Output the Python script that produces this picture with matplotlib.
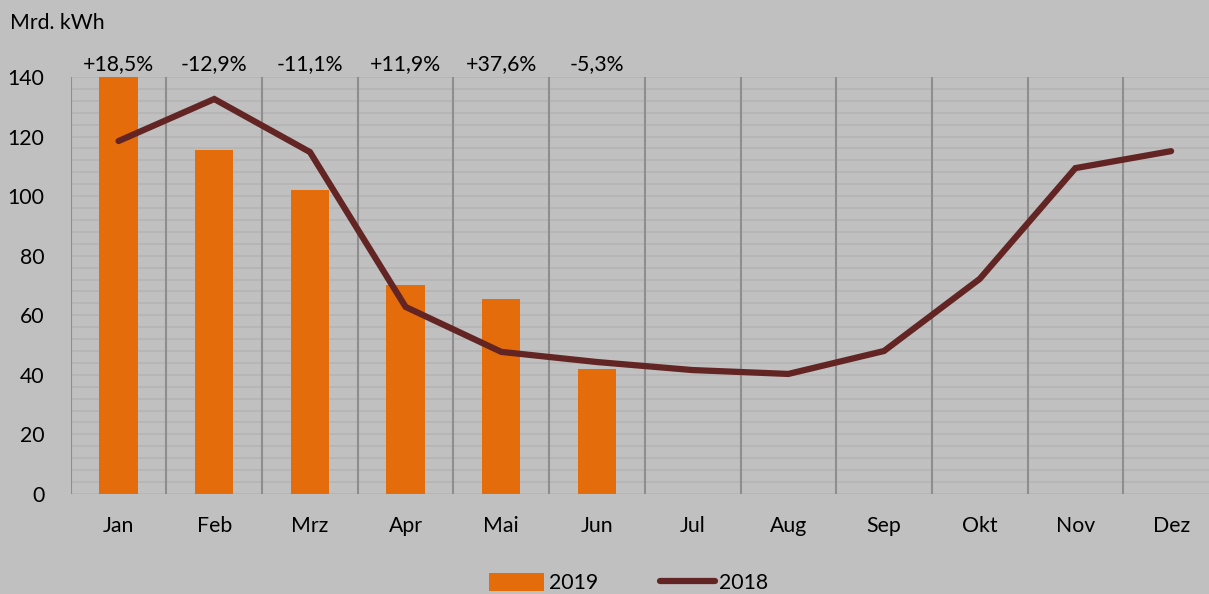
import matplotlib
matplotlib.use("Agg")
import matplotlib.pyplot as plt
import numpy as np
from matplotlib.patches import Patch
from matplotlib.lines import Line2D

months = ["Jan", "Feb", "Mrz", "Apr", "Mai", "Jun", "Jul", "Aug", "Sep", "Okt", "Nov", "Dez"]
values_2019 = [140.4, 115.5, 102.1, 70.3, 65.6, 42.0]
values_2018 = [118.5, 132.6, 114.8, 62.8, 47.7, 44.3, 41.6, 40.3, 48.0, 72.2, 109.4, 115.1]
changes = ["+18,5%", "-12,9%", "-11,1%", "+11,9%", "+37,6%", "-5,3%"]

BG = "#c0c0c0"
ORANGE = "#e46c0a"
DARKRED = "#632523"
FS = 15.3

plt.rcParams["font.family"] = ["Lato", "DejaVu Sans"]
plt.rcParams["font.size"] = FS

fig = plt.figure(figsize=(12.09, 5.94), dpi=100, facecolor=BG)
ax = fig.add_axes([0.0585, 0.1684, 0.9497, 0.702])
ax.set_facecolor(BG)

x = np.arange(len(months))

# Gitter: horizontal alle 4, vertikal an den Monatsgrenzen
for y in np.arange(0, 141, 4):
    ax.axhline(y, color="#b5b5b5", linewidth=1.2, zorder=0)
for b in np.arange(-0.5, 11.0, 1.0):
    ax.axvline(b, color="#8e8e8e", linewidth=1.5, zorder=1)

ax.bar(x[:len(values_2019)], values_2019, width=0.4, color=ORANGE, zorder=2)
ax.plot(x, values_2018, color=DARKRED, linewidth=4.5, solid_capstyle="round",
        solid_joinstyle="miter", zorder=3)

for i, txt in enumerate(changes):
    ax.text(i, 141.0, txt, ha="center", va="bottom", fontsize=FS, clip_on=False)

ax.set_xlim(-0.5, 11.5)
ax.set_ylim(0, 140)
ax.set_yticks(np.arange(0, 141, 20))
ax.set_xticks(x)
ax.set_xticklabels(months)
ax.tick_params(axis="both", length=0, labelsize=FS)
ax.tick_params(axis="x", pad=16)
ax.tick_params(axis="y", pad=19)
for s in ax.spines.values():
    s.set_visible(False)

fig.text(0.008, 0.962, "Mrd. kWh", ha="left", va="center", fontsize=FS)

handles = [Patch(facecolor=ORANGE, label="2019"),
           Line2D([0], [0], color=DARKRED, linewidth=4.5, solid_capstyle="round", label="2018")]
fig.legend(handles=handles, loc="center", bbox_to_anchor=(0.52, 0.018), ncol=2,
           frameon=False, handlelength=2.6, handleheight=0.9, columnspacing=2.9,
           handletextpad=0.2, fontsize=FS)

fig.savefig("out.png", dpi=100, facecolor=BG)
